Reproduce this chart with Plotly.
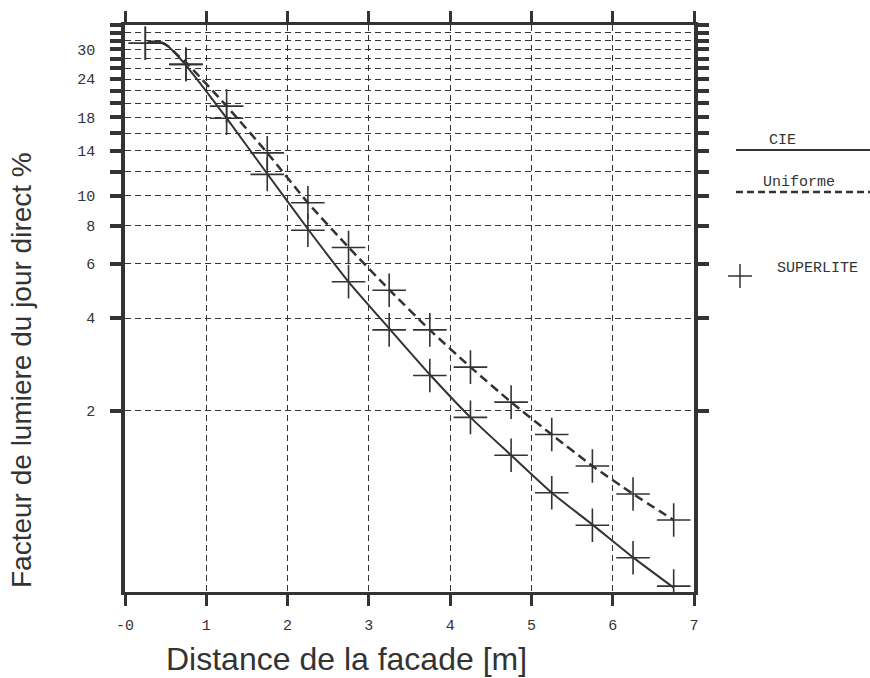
import math
import plotly.graph_objects as go

# ---- data ----
x_markers = [0.25, 0.75, 1.25, 1.75, 2.25, 2.75, 3.25, 3.75, 4.25, 4.75, 5.25, 5.75, 6.25, 6.75]
superlite_uniforme = [31.4, 26.8, 19.6, 13.8, 9.5, 6.79, 4.93, 3.66, 2.77, 2.13, 1.67, 1.32, 1.07, 0.88]
superlite_cie = [31.4, 26.8, 17.9, 11.75, 7.73, 5.25, 3.66, 2.60, 1.90, 1.43, 1.08, 0.846, 0.663, 0.536]

x_curve = [0.28, 0.43, 0.53, 0.63, 0.75, 1.25, 1.75, 2.25, 2.75, 3.25, 3.75, 4.25, 4.75, 5.25, 5.75, 6.25, 6.75]
cie_curve = [31.7, 31.7, 30.7, 28.9, 26.6, 17.9, 11.8, 7.8, 5.25, 3.7, 2.62, 1.9, 1.43, 1.08, 0.85, 0.665, 0.53]
uni_curve = [31.7, 31.7, 30.7, 29.0, 27.2, 19.6, 13.8, 9.5, 6.8, 4.95, 3.66, 2.77, 2.13, 1.67, 1.32, 1.07, 0.88]

x_ticks = [0, 1, 2, 3, 4, 5, 6, 7]
x_ticktext = ["-0", "1", "2", "3", "4", "5", "6", "7"]
y_ticks = [2, 4, 6, 8, 10, 12, 14, 16, 18, 20, 22, 24, 26, 28, 30, 32, 34, 36]
y_labelled = [2, 4, 6, 8, 10, 14, 18, 24, 30]

INK = "#333333"
MONO = "Liberation Mono, Courier New, monospace"
SANS = "Liberation Sans, Arial, sans-serif"

fig = go.Figure()
fig.add_trace(go.Scatter(x=x_curve, y=cie_curve, mode="lines", name="CIE",
                         line=dict(color=INK, width=2, shape="spline", smoothing=0.6)))
fig.add_trace(go.Scatter(x=x_curve, y=uni_curve, mode="lines", name="Uniforme",
                         line=dict(color=INK, width=2.5, dash="9px,5px", shape="spline", smoothing=0.6)))
for ys in (superlite_cie, superlite_uniforme):
    fig.add_trace(go.Scatter(x=x_markers, y=ys, mode="markers", name="SUPERLITE",
                             marker=dict(symbol="cross-thin", size=24,
                                         line=dict(color=INK, width=1.6))))

fig.update_layout(
    width=870, height=678,
    margin=dict(l=125, r=176, t=25, b=86),
    paper_bgcolor="white", plot_bgcolor="white",
    showlegend=False,
    font=dict(family=MONO, size=15, color=INK),
)
fig.update_xaxes(
    range=[0, 7], tickvals=x_ticks, ticktext=x_ticktext,
    showline=True, linecolor=INK, linewidth=3, mirror="allticks",
    ticks="outside", ticklen=11, tickwidth=3, tickcolor=INK,
    showgrid=True, gridcolor=INK, gridwidth=1.3, griddash="6px,4px",
    zeroline=False, ticklabelstandoff=6,
    tickfont=dict(family=MONO, size=15, color=INK),
)
fig.update_yaxes(
    type="log", range=[math.log10(0.513), math.log10(36)],
    tickvals=y_ticks,
    ticktext=[str(v) if v in y_labelled else "" for v in y_ticks],
    showline=True, linecolor=INK, linewidth=3.5, mirror="allticks",
    ticks="outside", ticklen=11, tickwidth=3.5, tickcolor=INK,
    showgrid=True, gridcolor=INK, gridwidth=1.3, griddash="6px,4px",
    zeroline=False, ticklabelstandoff=12,
    tickfont=dict(family=MONO, size=15, color=INK),
)

# ---- titles ----
fig.add_annotation(text="Distance de la facade [m]", xref="paper", yref="paper",
                   x=(346 - 125) / 569, y=(592 - 659) / 567, showarrow=False,
                   xanchor="center", yanchor="middle",
                   font=dict(family=SANS, size=32, color=INK))
fig.add_annotation(text="Facteur de lumiere du jour direct %", xref="paper", yref="paper",
                   x=(21 - 125) / 569, y=(592 - 370) / 567, showarrow=False, textangle=-90,
                   xanchor="center", yanchor="middle",
                   font=dict(family=SANS, size=28, color=INK))

# ---- legend (drawn) ----
def px_x(p):
    return (p - 125) / 569

def px_y(p):
    return (592 - p) / 567

fig.add_shape(type="line", xref="paper", yref="paper", x0=px_x(736), x1=px_x(870),
              y0=px_y(150), y1=px_y(150), line=dict(color=INK, width=2))
fig.add_shape(type="line", xref="paper", yref="paper", x0=px_x(736), x1=px_x(870),
              y0=px_y(192), y1=px_y(192), line=dict(color=INK, width=2.5, dash="7px,4px"))
fig.add_shape(type="line", xref="paper", yref="paper", x0=px_x(728), x1=px_x(752),
              y0=px_y(276), y1=px_y(276), line=dict(color=INK, width=1.5))
fig.add_shape(type="line", xref="paper", yref="paper", x0=px_x(740), x1=px_x(740),
              y0=px_y(264), y1=px_y(288), line=dict(color=INK, width=1.5))
for txt, cx, cy in (("CIE", 782, 140), ("Uniforme", 799, 182), ("SUPERLITE", 817, 268)):
    fig.add_annotation(text=txt, xref="paper", yref="paper", x=px_x(cx), y=px_y(cy),
                       showarrow=False, xanchor="center", yanchor="middle",
                       font=dict(family=MONO, size=15, color=INK))

fig.write_html("out.html")
